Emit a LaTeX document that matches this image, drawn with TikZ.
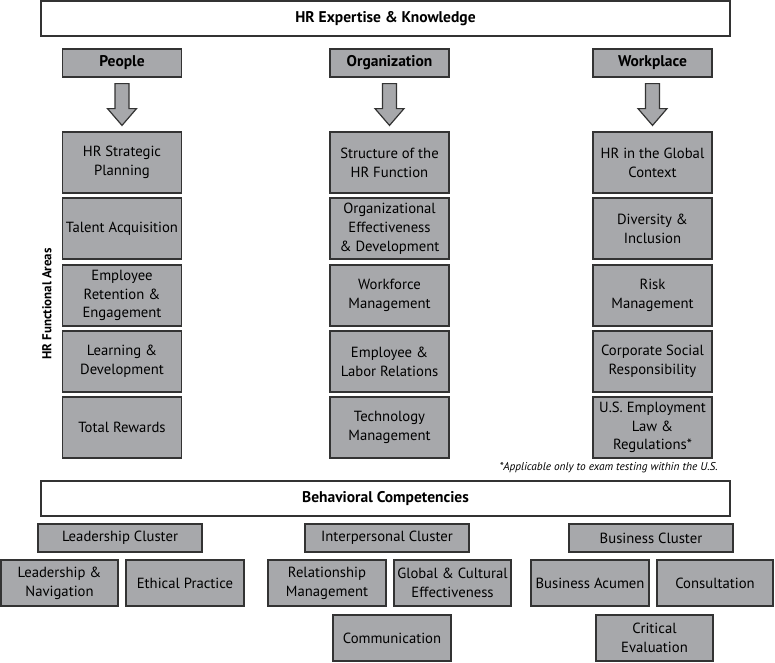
\documentclass[tikz,border=0pt]{standalone}
\usepackage{fontspec}
\setmainfont{PT Sans}
\usetikzlibrary{calc}
\definecolor{boxgray}{HTML}{A7A8AB}
\definecolor{edge}{HTML}{333333}
\tikzset{
  gbox/.style={draw=edge, line width=1.2pt, fill=boxgray, inner sep=0pt, align=center, font=\fontsize{14.7}{18.8}\selectfont},
  wbox/.style={draw=edge, line width=1.2pt, fill=white, inner sep=0pt, align=center, font=\bfseries\fontsize{15.5}{17}\selectfont},
  hdr/.style={gbox, minimum width=119pt, minimum height=28pt, font=\bfseries\fontsize{15.5}{17}\selectfont},
  area/.style={gbox, minimum width=119pt, minimum height=61pt},
  clus/.style={gbox, minimum width=164pt, minimum height=28pt},
  comp/.style={gbox, minimum width=117pt, minimum height=46pt},
  barrow/.style={draw=edge, line width=1.2pt, fill=boxgray, line join=miter}
}
\newcommand{\blockarrow}[2]{%
  \draw[barrow] ($(#1.south)+(-7,6)$) -- ($(#1.south)+(7,6)$) -- ($(#1.south)+(7,31)$)
   -- ($(#1.south)+(14.5,31)$) -- ($(#2.north)+(0,-6)$) -- ($(#1.south)+(-14.5,31)$)
   -- ($(#1.south)+(-7,31)$) -- cycle;}
\begin{document}
\begin{tikzpicture}[x=1pt,y=-1pt]
\useasboundingbox (0,0) rectangle (775,662);
% top
\node[wbox, minimum width=689pt, minimum height=35pt] (hrek) at (385.5,18.5) {HR Expertise \& Knowledge};
% headers
\node[hdr] (people) at (122,63) {People};
\node[hdr] (org) at (389.5,63) {Organization};
\node[hdr] (work) at (652.5,63) {Workplace};
% people column
\node[area] (p1) at (122,162.5) {HR Strategic\\Planning};
\node[area] (p2) at (122,228.5) {Talent Acquisition};
\node[area] (p3) at (122,295.5) {Employee\\Retention \&\\Engagement};
\node[area] (p4) at (122,361.5) {Learning \&\\Development};
\node[area] (p5) at (122,427.5) {Total Rewards};
% organization column
\node[area] (o1) at (389.5,162.5) {Structure of the\\HR Function};
\node[area] (o2) at (389.5,228.5) {Organizational\\Effectiveness\\\& Development};
\node[area] (o3) at (389.5,295.5) {Workforce\\Management};
\node[area] (o4) at (389.5,361.5) {Employee \&\\Labor Relations};
\node[area] (o5) at (389.5,427.5) {Technology\\Management};
% workplace column
\node[area] (w1) at (652.5,162.5) {HR in the Global\\Context};
\node[area] (w2) at (652.5,228.5) {Diversity \&\\Inclusion};
\node[area] (w3) at (652.5,295.5) {Risk\\Management};
\node[area] (w4) at (652.5,361.5) {Corporate Social\\Responsibility};
\node[area] (w5) at (652.5,427.5) {U.S. Employment\\Law \&\\Regulations*};
% arrows
\blockarrow{people}{p1}
\blockarrow{org}{o1}
\blockarrow{work}{w1}
% side label
\node[rotate=90, font=\bfseries\fontsize{12.9}{14}\selectfont] (fa) at (47,304) {HR Functional Areas};
% footnote
\node[anchor=east, font=\itshape\fontsize{11.3}{13}\selectfont, inner sep=0pt] (fn) at (718,468) {*Applicable only to exam testing within the U.S.};
% behavioral
\node[wbox, minimum width=689pt, minimum height=35pt] (bc) at (385.5,498.5) {Behavioral Competencies};
\node[clus] (lc) at (120,538) {Leadership Cluster};
\node[comp] (ln) at (59.5,583) {Leadership \&\\Navigation};
\node[comp, minimum width=118pt] (ep) at (185,583) {Ethical Practice};
\node[clus] (ic) at (387,538) {Interpersonal Cluster};
\node[comp, minimum width=118pt] (rm) at (327,583) {Relationship\\Management};
\node[comp] (gc) at (452.5,583) {Global \& Cultural\\Effectiveness};
\node[comp, minimum width=118pt] (cm) at (392,638) {Communication};
\node[clus] (bcl) at (651,538) {Business Cluster};
\node[comp, minimum width=118pt] (ba) at (590,583) {Business Acumen};
\node[comp, minimum width=116pt] (cs) at (715,583) {Consultation};
\node[comp] (ce) at (654.5,638) {Critical\\Evaluation};
\end{tikzpicture}
\end{document}
